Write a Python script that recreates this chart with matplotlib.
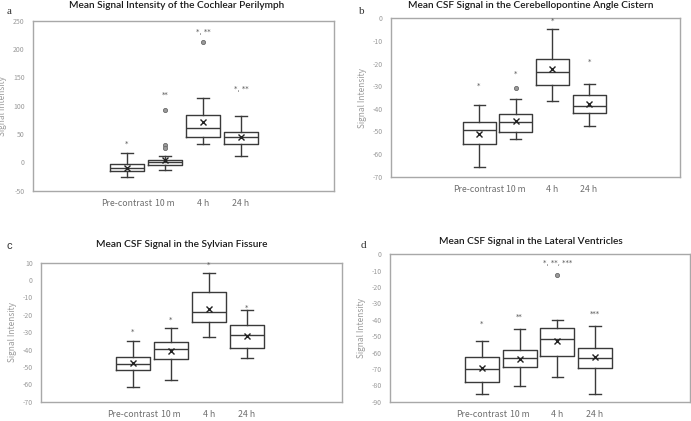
import matplotlib
matplotlib.use("Agg")
import matplotlib.pyplot as plt

W, H = 691, 421

categories = ["Pre-contrast", "10 m", "4 h", "24 h"]

# Panel a: Cochlear perilymph
a_whislo = [-26, -14, 32, 12]
a_q1 = [-16, -5, 45, 32]
a_med = [-9.5, 0, 61, 45]
a_q3 = [-3, 4, 84, 54]
a_whishi = [16, 12, 114, 82]
a_mean = [-10.6, 4.5, 72, 45]
a_fliers = [[], [92, 30, 26], [213], []]
a_stars = ["*", "**", "*, **", "*, **"]
a_star_y = [32, 120, 230, 130]

# Panel b: Cerebellopontine angle cistern
b_whislo = [-65.9, -53.2, -36.4, -47.6]
b_q1 = [-55.7, -50.1, -29.6, -41.7]
b_med = [-49.5, -45.8, -23.7, -38.8]
b_q3 = [-45.7, -42.4, -17.8, -33.9]
b_whishi = [-38.2, -35.5, -4.6, -29.2]
b_mean = [-51.3, -45.2, -22.5, -37.8]
b_fliers = [[], [-30.7], [], []]
b_stars = ["*", "*", "*", "*"]
b_star_y = [-29.6, -24.3, -1.0, -19.0]

# Panel c: Sylvian fissure
c_whislo = [-61.4, -57.3, -32.6, -45.0]
c_q1 = [-52.0, -45.6, -24.0, -38.9]
c_med = [-48.5, -39.9, -18.2, -31.6]
c_q3 = [-44.0, -35.5, -6.7, -25.9]
c_whishi = [-35.0, -27.8, 3.9, -17.4]
c_mean = [-47.7, -40.8, -16.7, -32.0]
c_fliers = [[], [], [], []]
c_stars = ["*", "*", "*", "*"]
c_star_y = [-30.0, -23.0, 8.7, -15.7]

# Panel d: Lateral ventricles
d_whislo = [-85.5, -80.6, -74.9, -85.5]
d_q1 = [-78.2, -69.0, -62.3, -69.4]
d_med = [-70.0, -63.3, -51.7, -63.5]
d_q3 = [-62.9, -58.6, -45.2, -57.0]
d_whishi = [-52.9, -45.8, -40.1, -44.0]
d_mean = [-69.4, -63.7, -53.1, -62.9]
d_fliers = [[], [], [-12.8], []]
d_stars = ["*", "**", "*, **, ***", "***"]
d_star_y = [-42.6, -38.0, -5.5, -36.2]

a_yticks = list(range(-50, 251, 50))
b_yticks = list(range(-70, 1, 10))
c_yticks = list(range(-70, 11, 10))
d_yticks = list(range(-90, 1, 10))

titles = ["Mean Signal Intensity of the Cochlear Perilymph",
          "Mean CSF Signal in the Cerebellopontine Angle Cistern",
          "Mean CSF Signal in the Sylvian Fissure",
          "Mean CSF Signal in the Lateral Ventricles"]
letters = ["a", "b", "c", "d"]

panels = [
    dict(whislo=a_whislo, q1=a_q1, med=a_med, q3=a_q3, whishi=a_whishi, mean=a_mean,
         fliers=a_fliers, stars=a_stars, star_y=a_star_y, yticks=a_yticks,
         box=(33, 20.7, 334, 190.7), xlim=(-1.47, 6.45), title_xy=(177, 5),
         letter_xy=(9, 12), letter_font="Liberation Serif"),
    dict(whislo=b_whislo, q1=b_q1, med=b_med, q3=b_q3, whishi=b_whishi, mean=b_mean,
         fliers=b_fliers, stars=b_stars, star_y=b_star_y, yticks=b_yticks,
         box=(391, 18.3, 680, 176.7), xlim=(-1.40, 6.48), title_xy=(531, 5),
         letter_xy=(362, 11), letter_font="Liberation Serif"),
    dict(whislo=c_whislo, q1=c_q1, med=c_med, q3=c_q3, whishi=c_whishi, mean=c_mean,
         fliers=c_fliers, stars=c_stars, star_y=c_star_y, yticks=c_yticks,
         box=(41, 262.7, 342, 401.7), xlim=(-1.42, 6.5), title_xy=(182, 244),
         letter_xy=(9, 246), letter_font="Liberation Sans"),
    dict(whislo=d_whislo, q1=d_q1, med=d_med, q3=d_q3, whishi=d_whishi, mean=d_mean,
         fliers=d_fliers, stars=d_stars, star_y=d_star_y, yticks=d_yticks,
         box=(390, 254.3, 690, 401.7), xlim=(-1.44, 6.52), title_xy=(531, 242),
         letter_xy=(363, 245), letter_font="Liberation Serif"),
]

fig = plt.figure(figsize=(W / 100, H / 100), dpi=100)
fig.patch.set_facecolor("white")

linec = "#3a3a3a"
tick_font = ["Noto Sans CJK JP", "DejaVu Sans"]

for i, p in enumerate(panels):
    x0, y0, x1, y1 = p["box"]
    ax = fig.add_axes([x0 / W, 1 - y1 / H, (x1 - x0) / W, (y1 - y0) / H])
    stats = []
    for k in range(len(categories)):
        stats.append(dict(whislo=p["whislo"][k], q1=p["q1"][k], med=p["med"][k],
                          q3=p["q3"][k], whishi=p["whishi"][k], mean=p["mean"][k],
                          fliers=p["fliers"][k], label=categories[k]))
    ax.bxp(stats, positions=[1, 2, 3, 4], widths=0.9, showmeans=True,
           capwidths=0.3,
           boxprops=dict(color=linec, linewidth=1.0),
           whiskerprops=dict(color=linec, linewidth=1.0),
           capprops=dict(color=linec, linewidth=1.0),
           medianprops=dict(color=linec, linewidth=1.0),
           meanprops=dict(marker="x", markeredgecolor="#222222", markersize=4.5,
                          markeredgewidth=1.0),
           flierprops=dict(marker="o", markerfacecolor="#9a9a9a",
                           markeredgecolor="#6a6a6a", markersize=3, markeredgewidth=0.6))
    for k in range(len(categories)):
        ax.text(k + 1, p["star_y"][k], p["stars"][k], ha="center", va="center",
                fontsize=5, color="#555555")
    yt = p["yticks"]
    ax.set_ylim(yt[0], yt[-1])
    ax.set_yticks(yt)
    ax.set_yticklabels([str(v) for v in yt], fontsize=5, color="#9a9a9a",
                       family=tick_font)
    ax.set_xlim(*p["xlim"])
    ax.set_xticks([1, 2, 3, 4])
    ax.set_xticklabels(categories, fontsize=6.3, color="#6f6f6f", family=tick_font)
    ax.tick_params(axis="both", length=0)
    ax.tick_params(axis="x", pad=6)
    ax.tick_params(axis="y", pad=6)
    for s in ax.spines.values():
        s.set_color("#a8a8a8")
        s.set_linewidth(1.0)
    ax.set_ylabel("Signal Intensity", fontsize=6, color="#9a9a9a", family=tick_font,
                  labelpad=4)
    tx, ty = p["title_xy"]
    fig.text(tx / W, 1 - ty / H, titles[i], ha="center", va="center", fontsize=7.3,
             color="#1a1a1a", family=["Lato", "DejaVu Sans"], fontweight="semibold")
    lx, ly = p["letter_xy"]
    fig.text(lx / W, 1 - ly / H, letters[i], ha="center", va="center", fontsize=8,
             color="#333333", family=p["letter_font"])

fig.savefig("out.png", dpi=100, facecolor="white")
